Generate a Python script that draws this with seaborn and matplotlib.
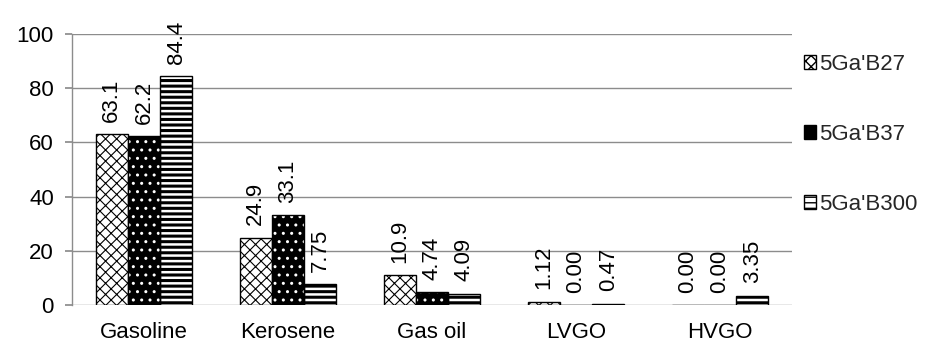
import matplotlib
matplotlib.use("Agg")
import matplotlib.pyplot as plt
import seaborn as sns
import pandas as pd
from matplotlib.patches import Rectangle

categories = ["Gasoline", "Kerosene", "Gas oil", "LVGO", "HVGO"]
series_names = ["5Ga'B27", "5Ga'B37", "5Ga'B300"]
b27 = [63.1, 24.9, 10.9, 1.12, 0.00]
b37 = [62.2, 33.1, 4.74, 0.00, 0.00]
b300 = [84.4, 7.75, 4.09, 0.47, 3.35]
labels_b27 = ["63.1", "24.9", "10.9", "1.12", "0.00"]
labels_b37 = ["62.2", "33.1", "4.74", "0.00", "0.00"]
labels_b300 = ["84.4", "7.75", "4.09", "0.47", "3.35"]
y_ticks = [0, 20, 40, 60, 80, 100]

rows = []
for name, vals in zip(series_names, [b27, b37, b300]):
    for c, v in zip(categories, vals):
        rows.append({"cat": c, "series": name, "value": v})
df = pd.DataFrame(rows)

sns.set_theme(style="white")
plt.rcParams["font.family"] = ["Liberation Sans", "DejaVu Sans"]
FS = 16

fig = plt.figure(figsize=(9.29, 3.47), dpi=100)
ax = fig.add_axes([0.0775, 0.121, 0.775, 0.781])

sns.barplot(data=df, x="cat", y="value", hue="series", order=categories,
            hue_order=series_names, width=0.67, gap=0, ax=ax,
            palette=["white", "black", "white"], saturation=1,
            edgecolor="black", linewidth=1.0, legend=True)

hatches = ["xxx", "..", "---"]
hatch_lw = [0.8, 1.0, 2.2]
for i, cont in enumerate(ax.containers):
    for p in cont.patches:
        if hasattr(p, "set_hatch_linewidth"):
            p.set_hatch_linewidth(hatch_lw[i])
        if i == 1:
            p.set_hatch("..")
            p.set_edgecolor("white")
            p.set_linewidth(0)
            x, y = p.get_xy()
            ax.add_patch(Rectangle((x, y), p.get_width(), p.get_height(),
                                   fill=False, edgecolor="black", linewidth=1.0,
                                   zorder=p.get_zorder() + 0.1))
        else:
            p.set_hatch(hatches[i])
    labs = [labels_b27, labels_b37, labels_b300][i]
    ax.bar_label(cont, labels=labs, rotation=90, padding=9, fontsize=FS,
                 color="black")

ax.set_ylim(0, 100)
ax.set_yticks(y_ticks)
ax.set_xlim(-0.5, 4.5)
ax.yaxis.grid(True, color="#8c8c8c", linewidth=1.0)
ax.set_axisbelow(True)
ax.set_xlabel("")
ax.set_ylabel("")
for s in ["top", "right", "bottom"]:
    ax.spines[s].set_visible(False)
ax.spines["left"].set_color("#8c8c8c")
ax.spines["left"].set_linewidth(1.0)
ax.tick_params(axis="y", left=True, length=5, color="#8c8c8c", labelsize=FS,
               labelcolor="black", pad=8)
ax.tick_params(axis="x", bottom=False, labelsize=FS, labelcolor="black", pad=6)

handles, lbls = ax.get_legend_handles_labels()
for i, h in enumerate(handles):
    h.set_hatch(hatches[i] if i != 1 else "")
leg = ax.legend(handles, lbls, loc="center left", bbox_to_anchor=(1.0, 0.63),
                frameon=False, fontsize=FS, labelspacing=2.2,
                handlelength=0.55, handleheight=0.55, handletextpad=0.1,
                borderaxespad=0.15)

fig.savefig("out.png", dpi=100)
